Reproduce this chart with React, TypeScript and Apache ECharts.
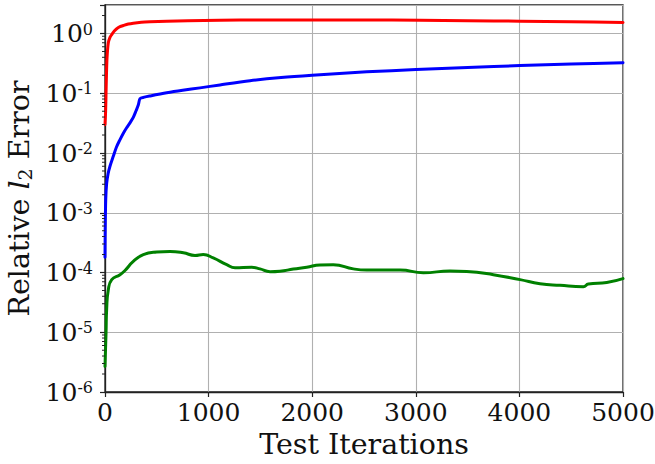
import React, { useEffect, useRef } from "react";
import * as echarts from "echarts";

// Test iterations (x) and relative l2 error (y) for each curve
const RED_ITER = [0, 6, 10, 14, 20, 32, 48, 65, 90, 113, 145, 177, 225, 273, 350, 434, 596, 800, 1110, 1500, 2000, 2500, 3040, 3500, 4006, 4500, 5000];
const RED_ERR = [0.03, 0.05, 0.1, 0.2, 0.4, 0.7, 0.86, 0.96, 1.1, 1.2, 1.3, 1.36, 1.44, 1.49, 1.54, 1.57, 1.61, 1.64, 1.67, 1.68, 1.68, 1.68, 1.67, 1.64, 1.61, 1.57, 1.53];

const BLUE_ITER = [0, 2, 7, 16, 30, 48, 80, 110, 145, 177, 209, 241, 273, 300, 322, 338, 380, 434, 596, 750, 917, 1110, 1400, 1700, 2000, 2526, 3002, 3500, 4006, 4500, 5000];
const BLUE_ERR = [1.8e-4, 5e-4, 1.66e-3, 3.1e-3, 4.5e-3, 6e-3, 8.8e-3, 0.0125, 0.0168, 0.0215, 0.0265, 0.032, 0.0395, 0.051, 0.064, 0.0815, 0.086, 0.09, 0.1016, 0.112, 0.123, 0.138, 0.162, 0.183, 0.2, 0.228, 0.249, 0.27, 0.291, 0.308, 0.323];

const GREEN_ITER = [0, 10, 16, 32, 65, 145, 193, 273, 370, 499, 627, 756, 869, 949, 1045, 1175, 1255, 1416, 1496, 1593, 1689, 1818, 1947, 2075, 2204, 2397, 2526, 2848, 3073, 3330, 3491, 3748, 4006, 4199, 4392, 4617, 4666, 4843, 5000];
const GREEN_ERR = [2.67e-6, 9.8e-6, 2.4e-5, 5.15e-5, 7.6e-5, 9.2e-5, 1.08e-4, 1.53e-4, 1.99e-4, 2.2e-4, 2.25e-4, 2.14e-4, 1.93e-4, 2.0e-4, 1.75e-4, 1.35e-4, 1.2e-4, 1.22e-4, 1.15e-4, 1.03e-4, 1.05e-4, 1.14e-4, 1.22e-4, 1.34e-4, 1.35e-4, 1.15e-4, 1.1e-4, 1.1e-4, 9.9e-5, 1.06e-4, 1.04e-4, 9.2e-5, 7.6e-5, 6.5e-5, 6.1e-5, 5.8e-5, 6.4e-5, 6.8e-5, 7.9e-5];

const X_MIN = 0;
const X_MAX = 5000;
const X_INTERVAL = 1000;
const Y_MIN = 1e-6;
const Y_MAX = 3;
const DECADES = [-6, -5, -4, -3, -2, -1, 0];
const MINOR_MULTS = [2, 3, 4, 5, 6, 7, 8, 9];

const FONT = "DejaVu Serif";
const INK = "#111";

const zip = (xs: number[], ys: number[]) => xs.map((x, i) => [x, ys[i]]);

export default function App() {
  const ref = useRef<HTMLDivElement>(null);
  useEffect(() => {
    if (!ref.current) return;
    const chart = echarts.init(ref.current, null, { renderer: "svg" });
    const minor: number[][] = [];
    DECADES.forEach((d) => {
      MINOR_MULTS.forEach((m) => {
        const v = m * Math.pow(10, d);
        if (v < Y_MAX) minor.push([X_MIN, v]);
      });
    });
    const lineSeries = (name: string, data: number[][], color: string, smooth: number) => ({
      type: "line",
      name,
      data,
      showSymbol: false,
      symbol: "none",
      smooth,
      lineStyle: { color, width: 3, join: "round", cap: "round" },
      itemStyle: { color },
      z: 3,
    });
    chart.setOption({
      animation: false,
      backgroundColor: "#fff",
      grid: {
        left: 105,
        right: 32,
        top: 5,
        bottom: 72,
        containLabel: false,
        outerBoundsMode: "none",
        show: true,
        borderColor: "#222",
        borderWidth: 1.3,
        backgroundColor: "transparent",
      },
      xAxis: {
        type: "value",
        min: X_MIN,
        max: X_MAX,
        interval: X_INTERVAL,
        name: "Test Iterations",
        nameLocation: "middle",
        nameGap: 38,
        nameTextStyle: { fontFamily: FONT, fontSize: 28.5, color: INK },
        axisLine: { show: true, lineStyle: { color: "#222", width: 1.3 } },
        axisTick: { show: true, inside: false, length: 5, lineStyle: { color: "#222", width: 1.2 } },
        axisLabel: {
          fontFamily: FONT,
          fontSize: 25,
          color: INK,
          margin: 8,
          formatter: (v: number) => String(v),
        },
        splitLine: { show: true, lineStyle: { color: "#b0b0b0", width: 1.1 } },
      },
      yAxis: {
        type: "log",
        logBase: 10,
        min: Y_MIN,
        max: Y_MAX,
        splitNumber: 7,
        name: "{n|Relative }{i|l}{sub|2}{n| Error}",
        nameLocation: "middle",
        nameRotate: 90,
        nameGap: 66,
        nameTextStyle: {
          fontFamily: FONT,
          fontSize: 28.5,
          color: INK,
          rich: {
            n: { fontFamily: FONT, fontSize: 28.5, color: INK, lineHeight: 30 },
            i: { fontFamily: FONT, fontSize: 28.5, fontStyle: "italic", color: INK, lineHeight: 30 },
            sub: { fontFamily: FONT, fontSize: 19, color: INK, verticalAlign: "bottom", lineHeight: 14 },
          },
        },
        axisLine: { show: true, lineStyle: { color: "#222", width: 1.3 } },
        axisTick: { show: true, inside: false, length: 5, lineStyle: { color: "#222", width: 1.2 } },
        axisLabel: {
          margin: 12,
          formatter: (v: number) => {
            const l = Math.log10(v);
            const e = Math.round(l);
            if (Math.abs(l - e) > 1e-6) return "";
            return `{b|10}{s|${e}}`;
          },
          rich: {
            b: { fontFamily: FONT, fontSize: 25, color: INK, lineHeight: 25 },
            s: { fontFamily: FONT, fontSize: 16, color: INK, verticalAlign: "top", lineHeight: 14 },
          },
        },
        splitLine: { show: true, lineStyle: { color: "#b0b0b0", width: 1.1 } },
      },
      series: [
        {
          type: "custom",
          data: minor,
          silent: true,
          clip: false,
          z: 5,
          renderItem: (params: any, api: any) => {
            const p = api.coord([api.value(0), api.value(1)]);
            return {
              type: "line",
              shape: { x1: p[0] - 3, y1: p[1], x2: p[0], y2: p[1] },
              style: { stroke: "#222", lineWidth: 1 },
            };
          },
        },
        lineSeries("red", zip(RED_ITER, RED_ERR), "#ff0000", 0.3),
        lineSeries("blue", zip(BLUE_ITER, BLUE_ERR), "#0000ff", 0.3),
        lineSeries("green", zip(GREEN_ITER, GREEN_ERR), "#008000", 0.5),
      ],
    });
    return () => chart.dispose();
  }, []);
  return (
    <div
      ref={ref}
      style={{ position: "fixed", left: 0, top: 0, width: 655, height: 464, background: "#fff" }}
    />
  );
}
